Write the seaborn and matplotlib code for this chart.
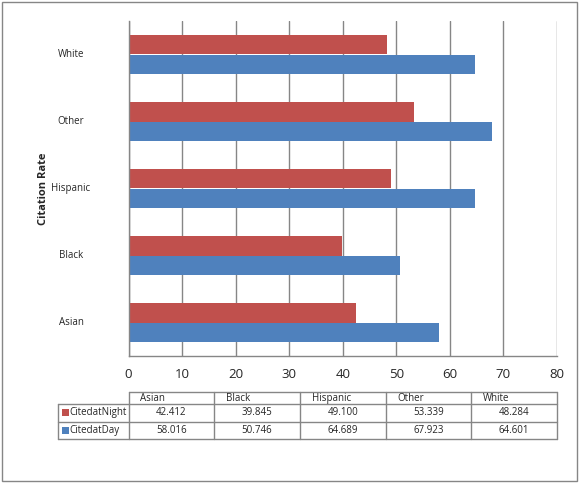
import matplotlib
matplotlib.use("Agg")
import matplotlib.pyplot as plt
import seaborn as sns
import pandas as pd
from matplotlib.patches import Rectangle
from matplotlib.lines import Line2D

# ---- data ----
categories = ["White", "Other", "Hispanic", "Black", "Asian"]
table_order = ["Asian", "Black", "Hispanic", "Other", "White"]
series_names = ["CitedatNight", "CitedatDay"]
night = {"Asian": 42.412, "Black": 39.845, "Hispanic": 49.100, "Other": 53.339, "White": 48.284}
day = {"Asian": 58.016, "Black": 50.746, "Hispanic": 64.689, "Other": 67.923, "White": 64.601}
xticks = [0, 10, 20, 30, 40, 50, 60, 70, 80]
colors = ["#C0504D", "#4F81BD"]
grid_gray = "#868686"

rows = []
for c in categories:
    rows.append({"cat": c, "series": series_names[0], "val": night[c]})
    rows.append({"cat": c, "series": series_names[1], "val": day[c]})
df = pd.DataFrame(rows)

sns.set_style("white")
plt.rcParams["font.family"] = ["Open Sans", "DejaVu Sans"]

W, H = 579, 483
fig = plt.figure(figsize=(W / 100, H / 100), dpi=100)
L, R, T, B = 128.5, 557.0, 21.0, 356.0
ax = fig.add_axes([L / W, 1 - B / H, (R - L) / W, (B - T) / H])

sns.barplot(data=df, y="cat", x="val", hue="series", order=categories,
            hue_order=series_names, palette=colors, orient="h",
            width=0.57, saturation=1, ax=ax, legend=False, edgecolor="none")

ax.set_xlim(0, 80)
ax.set_ylim(4.5, -0.5)
ax.set_xticks(xticks)
ax.set_xticklabels([str(t) for t in xticks], fontsize=9.5)
ax.set_xlabel("")
ax.set_ylabel("")
ax.xaxis.grid(True, color=grid_gray, linewidth=1)
ax.yaxis.grid(False)
ax.set_axisbelow(True)
for s in ["top", "right"]:
    ax.spines[s].set_visible(False)
for s in ["left", "bottom"]:
    ax.spines[s].set_color(grid_gray)
    ax.spines[s].set_linewidth(1)
ax.tick_params(axis="x", length=4, color=grid_gray, width=1, pad=5)

# y: category labels at centers, ticks at boundaries
ax.set_yticks(range(len(categories)))
ax.set_yticklabels([])
ax.tick_params(axis="y", which="major", length=0)
ax.set_yticks([i - 0.5 for i in range(len(categories) + 1)], minor=True)
ax.tick_params(axis="y", which="minor", length=3.5, color=grid_gray, width=1)

def px(x, y):
    return x / W, 1 - y / H

for i, c in enumerate(categories):
    ycen = T + (i + 0.5) * (B - T) / len(categories)
    fig.text(*px(71, ycen), c, ha="center", va="center", fontsize=7)

fig.text(*px(43, 188.5), "Citation Rate", rotation=90, ha="center", va="center",
         fontsize=8, fontweight="bold")

# ---- data table ----
tbl_left = 58.3
row_lines = [391.7, 404.0, 421.7, 439.3]
col_w = (R - L) / len(table_order)
col_x = [L + k * col_w for k in range(len(table_order) + 1)]
tcol = grid_gray
lw = 1

def hline(x0, x1, y):
    fig.add_artist(Line2D([x0 / W, x1 / W], [1 - y / H, 1 - y / H], color=tcol, lw=lw))

def vline(x, y0, y1):
    fig.add_artist(Line2D([x / W, x / W], [1 - y0 / H, 1 - y1 / H], color=tcol, lw=lw))

hline(L, R, row_lines[0])
hline(tbl_left, R, row_lines[1])
hline(tbl_left, R, row_lines[2])
hline(tbl_left, R, row_lines[3])
vline(tbl_left, row_lines[1], row_lines[3])
for x in col_x:
    vline(x, row_lines[0], row_lines[3])

for k, c in enumerate(table_order):
    fig.text(*px(col_x[k] + 12, (row_lines[0] + row_lines[1]) / 2 + 0.5), c,
             ha="left", va="center", fontsize=7)

series_vals = [night, day]
for r, name in enumerate(series_names):
    yc = (row_lines[r + 1] + row_lines[r + 2]) / 2
    fig.add_artist(Rectangle((62 / W, 1 - (yc + 3.5) / H), 6.7 / W, 7 / H,
                             color=colors[r], lw=0))
    fig.text(*px(69.3, yc), name, ha="left", va="center", fontsize=7)
    for k, c in enumerate(table_order):
        fig.text(*px(col_x[k] + col_w / 2, yc), f"{series_vals[r][c]:.3f}",
                 ha="center", va="center", fontsize=7)

# figure border
fig.add_artist(Rectangle((1.5 / W, 1 - 481 / H), 575.5 / W, 479.5 / H,
                         fill=False, edgecolor=grid_gray, lw=1))

fig.savefig("out.png", dpi=100)
